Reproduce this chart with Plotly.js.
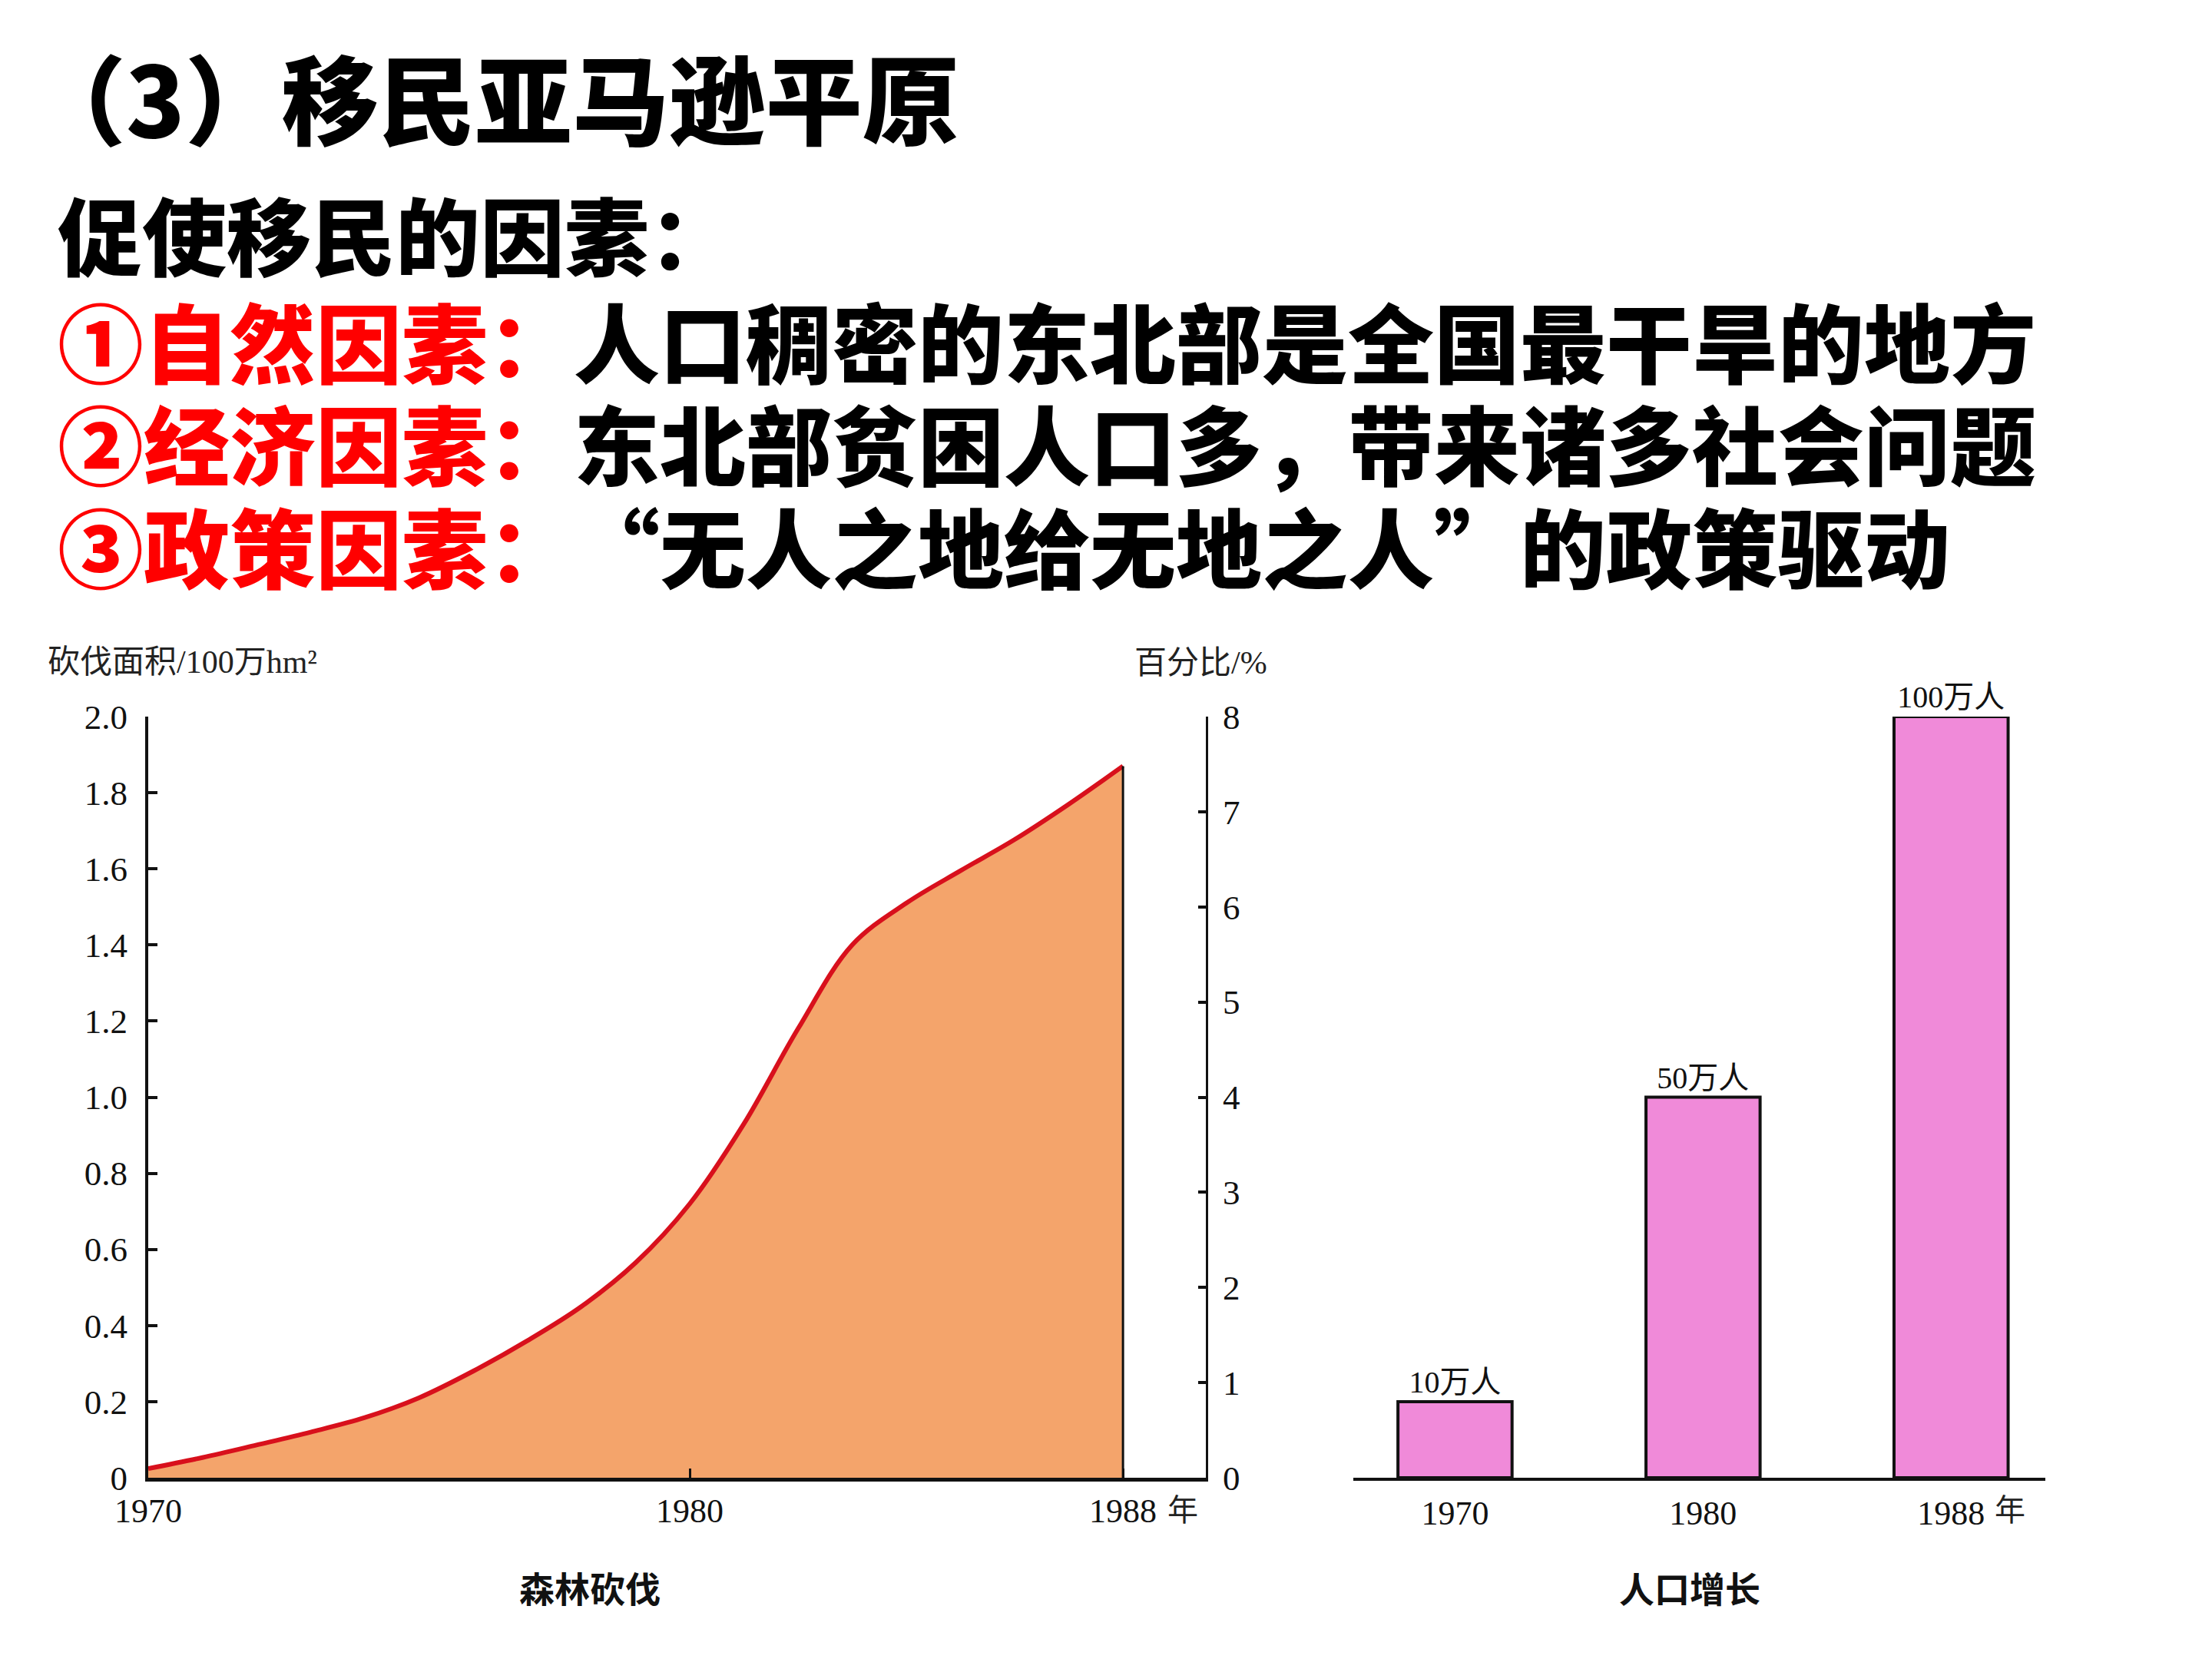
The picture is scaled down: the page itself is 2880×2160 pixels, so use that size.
<!DOCTYPE html>
<html>
<head>
<meta charset="utf-8">
<script src="https://cdn.plot.ly/plotly-3.0.1.min.js"></script>
<style>
  html, body { margin: 0; padding: 0; background: #ffffff; }
  #chart { width: 2880px; height: 2160px; }
</style>
</head>
<body>
<div id="chart"></div>
<script>
// ---- Data ----
const deforestYears = [1970, 1971, 1972, 1973, 1974, 1975, 1976, 1977, 1978, 1979, 1980, 1981, 1982, 1983, 1984, 1985, 1986, 1987, 1988];
const deforestArea  = [0.024, 0.053, 0.086, 0.12, 0.158, 0.21, 0.28, 0.36, 0.45, 0.565, 0.72, 0.93, 1.18, 1.40, 1.51, 1.595, 1.677, 1.77, 1.87];
const areaTickVals = [0, 0.2, 0.4, 0.6, 0.8, 1.0, 1.2, 1.4, 1.6, 1.8, 2.0];
const areaTickText = ["0", "0.2", "0.4", "0.6", "0.8", "1.0", "1.2", "1.4", "1.6", "1.8", "2.0"];
const pctTickVals  = [0, 1, 2, 3, 4, 5, 6, 7, 8];
const pctRange     = [0, 8];
const yearTickVals = [1970, 1980, 1988];
const yearTickText = ["1970", "1980", "1988"];

const popYears  = ["1970", "1980", "1988"];
const popValues = [10, 50, 100];
const popLabels = ["10万人", "50万人", "100万人"];

const titleText   = "（3）移民亚马逊平原";
const headingText = "促使移民的因素：";
const factorHeads = ["①自然因素：", "②经济因素：", "③政策因素："];
const factorTexts = ["人口稠密的东北部是全国最干旱的地方", "东北部贫困人口多，带来诸多社会问题", "“无人之地给无地之人”的政策驱动"];

// ---- Styling ----
const W = 2880, H = 2160;
const px = x => x / W;
const py = y => 1 - y / H;
const CJK = '"Noto Sans CJK SC", sans-serif';
const SERIF = '"Liberation Serif", "Noto Sans CJK SC", serif';
const ORANGE = '#F4A46B';
const RED_LINE = '#D8101C';
const PINK = '#F08AD9';

const traces = [
  {
    type: 'scatter', mode: 'lines',
    x: deforestYears, y: deforestArea,
    xaxis: 'x', yaxis: 'y',
    fill: 'tozeroy', fillcolor: ORANGE,
    line: { color: RED_LINE, width: 6, shape: 'spline', smoothing: 1.0 },
    hoverinfo: 'skip', showlegend: false
  },
  {
    type: 'scatter', mode: 'lines',
    x: [deforestYears[deforestYears.length - 1], deforestYears[deforestYears.length - 1]],
    y: [0, deforestArea[deforestArea.length - 1]],
    xaxis: 'x', yaxis: 'y',
    line: { color: '#111111', width: 3 },
    hoverinfo: 'skip', showlegend: false
  },
  {
    // invisible helper so that the right-hand percentage axis is drawn
    type: 'scatter', mode: 'lines',
    x: [deforestYears[0], deforestYears[0]], y: pctRange,
    xaxis: 'x', yaxis: 'y2',
    line: { color: 'rgba(0,0,0,0)', width: 0 },
    hoverinfo: 'skip', showlegend: false
  },
  {
    type: 'bar',
    x: popYears, y: popValues,
    xaxis: 'x2', yaxis: 'y3',
    width: 0.46,
    marker: { color: PINK, line: { color: '#111111', width: 4 } },
    text: popLabels, textposition: 'outside', cliponaxis: false,
    textfont: { family: SERIF, size: 40, color: '#111111' },
    hoverinfo: 'skip', showlegend: false
  }
];

const leftDomainX = [px(193), px(1570)];
const chartDomainY = [py(1924), py(933)];

const layout = {
  width: W, height: H,
  margin: { l: 0, r: 0, t: 0, b: 0 },
  paper_bgcolor: '#ffffff', plot_bgcolor: 'rgba(0,0,0,0)',
  showlegend: false,
  hovermode: false,
  xaxis: {
    domain: leftDomainX, anchor: 'y',
    range: [1970, 1989.53],
    showgrid: false, zeroline: false,
    showline: true, linecolor: '#111111', linewidth: 5,
    tickvals: yearTickVals, ticktext: yearTickText,
    ticks: 'inside', ticklen: 12, tickwidth: 3, tickcolor: '#111111',
    tickfont: { family: SERIF, size: 44, color: '#111111' },
    ticklabelstandoff: 0
  },
  yaxis: {
    domain: chartDomainY, anchor: 'x',
    range: [0, 2.0],
    showgrid: false, zeroline: false,
    showline: true, linecolor: '#111111', linewidth: 4,
    tickvals: areaTickVals, ticktext: areaTickText,
    ticks: 'inside', ticklen: 12, tickwidth: 4, tickcolor: '#111111',
    tickfont: { family: SERIF, size: 45, color: '#111111' },
    ticklabelstandoff: 14
  },
  yaxis2: {
    overlaying: 'y', side: 'right', anchor: 'x',
    range: pctRange,
    showgrid: false, zeroline: false,
    showline: true, linecolor: '#111111', linewidth: 3,
    tickvals: pctTickVals,
    ticks: 'inside', ticklen: 10, tickwidth: 4, tickcolor: '#111111',
    tickfont: { family: SERIF, size: 45, color: '#111111' },
    ticklabelstandoff: 10
  },
  xaxis2: {
    domain: [px(1762), px(2663)], anchor: 'y3',
    type: 'category',
    range: [-0.41, 2.38],
    showgrid: false, zeroline: false,
    showline: true, linecolor: '#111111', linewidth: 4,
    ticks: '',
    tickfont: { family: SERIF, size: 44, color: '#111111' },
    ticklabelstandoff: 4
  },
  yaxis3: {
    domain: chartDomainY, anchor: 'x2',
    range: [0, 100],
    visible: false
  },
  annotations: [
    { xref: 'paper', yref: 'paper', x: px(36), y: py(124), xanchor: 'left', yanchor: 'middle',
      text: titleText, showarrow: false,
      font: { family: CJK, size: 126, color: '#000000', weight: 900 } },
    { xref: 'paper', yref: 'paper', x: px(73), y: py(303), xanchor: 'left', yanchor: 'middle',
      text: headingText, showarrow: false,
      font: { family: CJK, size: 110, color: '#000000', weight: 900 } },
    { xref: 'paper', yref: 'paper', x: px(73), y: py(442), xanchor: 'left', yanchor: 'middle',
      text: '<span style="color:#FF0000">' + factorHeads[0] + '</span>' + factorTexts[0], showarrow: false,
      font: { family: CJK, size: 112, color: '#000000', weight: 900 } },
    { xref: 'paper', yref: 'paper', x: px(73), y: py(575), xanchor: 'left', yanchor: 'middle',
      text: '<span style="color:#FF0000">' + factorHeads[1] + '</span>' + factorTexts[1], showarrow: false,
      font: { family: CJK, size: 112, color: '#000000', weight: 900 } },
    { xref: 'paper', yref: 'paper', x: px(73), y: py(709), xanchor: 'left', yanchor: 'middle',
      text: factorHeads[2], showarrow: false,
      font: { family: CJK, size: 112, color: '#FF0000', weight: 900 } },
    { xref: 'paper', yref: 'paper', x: px(745), y: py(709), xanchor: 'left', yanchor: 'middle',
      text: factorTexts[2], showarrow: false,
      font: { family: CJK, size: 112, color: '#000000', weight: 900 } },
    { xref: 'paper', yref: 'paper', x: px(60), y: py(862), xanchor: 'left', yanchor: 'middle',
      text: '砍伐面积/100万hm²', showarrow: false,
      font: { family: SERIF, size: 42, color: '#222222' } },
    { xref: 'paper', yref: 'paper', x: px(1652), y: py(863), xanchor: 'right', yanchor: 'middle',
      text: '百分比/%', showarrow: false,
      font: { family: SERIF, size: 42, color: '#222222' } },
    { xref: 'paper', yref: 'paper', x: px(1540), y: py(1963), xanchor: 'center', yanchor: 'middle',
      text: '年', showarrow: false,
      font: { family: CJK, size: 40, color: '#222222' } },
    { xref: 'paper', yref: 'paper', x: px(2617), y: py(1963), xanchor: 'center', yanchor: 'middle',
      text: '年', showarrow: false,
      font: { family: CJK, size: 40, color: '#222222' } },
    { xref: 'paper', yref: 'paper', x: px(768), y: py(2066), xanchor: 'center', yanchor: 'middle',
      text: '森林砍伐', showarrow: false,
      font: { family: CJK, size: 46, color: '#111111', weight: 700 } },
    { xref: 'paper', yref: 'paper', x: px(2200), y: py(2066), xanchor: 'center', yanchor: 'middle',
      text: '人口增长', showarrow: false,
      font: { family: CJK, size: 46, color: '#111111', weight: 700 } }
  ]
};

Plotly.newPlot('chart', traces, layout, { displayModeBar: false, staticPlot: true });
</script>
</body>
</html>
